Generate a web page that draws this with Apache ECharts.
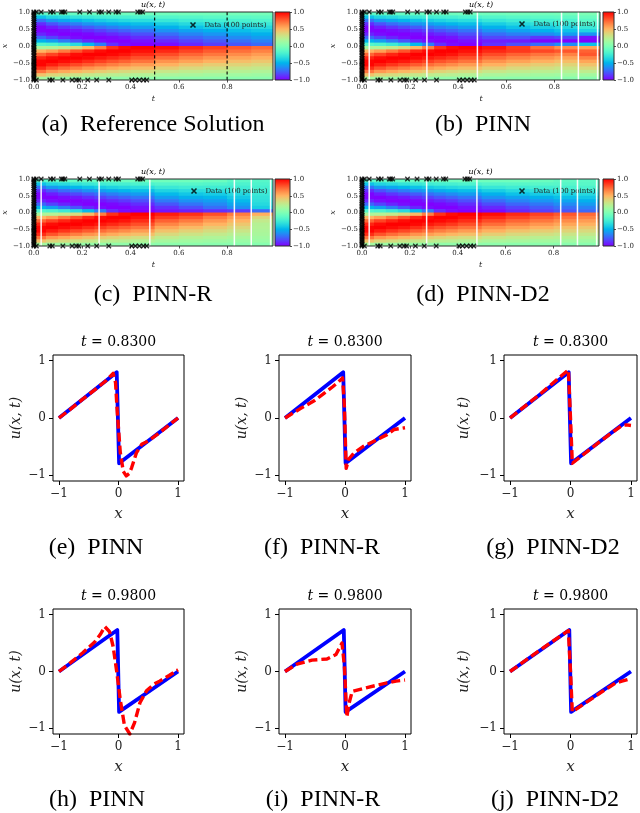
<!DOCTYPE html>
<html><head><meta charset="utf-8">
<script src="https://cdn.jsdelivr.net/npm/echarts@6/dist/echarts.min.js"></script>
<style>html,body{margin:0;padding:0;background:#fff}#c{width:640px;height:813px}</style>
</head><body><div id="c"></div>
<script>
// ---------------- DATA ----------------
// heat-map cells: time column edges and x row edges (top to bottom)
const tEdges = [0,0.05,0.1,0.15,0.2,0.25,0.3,0.35,0.4,0.5,0.6,0.7,0.8,0.9,0.99];
const xEdges = [1,0.9,0.8,0.7,0.6,0.5,0.4,0.3,0.2,0.1,0,-0.1,-0.2,-0.3,-0.4,-0.5,-0.6,-0.7,-0.8,-0.9,-1];
const tTicks = [0,0.2,0.4,0.6,0.8];
const cbTicks = [-1,-0.5,0,0.5,1];

// u(x,t) per time column, rows x = 0.95 ... -0.95
const uRef = [
 [-0.15,-0.45,-0.70,-0.89,-0.99,-0.99,-0.91,-0.74,-0.50,-0.17, 0.17,0.50,0.74,0.91,0.99,0.99,0.89,0.70,0.45,0.15],
 [-0.12,-0.37,-0.59,-0.79,-0.93,-1.00,-0.97,-0.83,-0.57,-0.20, 0.20,0.57,0.83,0.97,1.00,0.93,0.79,0.59,0.37,0.12],
 [-0.11,-0.34,-0.54,-0.72,-0.87,-0.97,-1.00,-0.91,-0.68,-0.26, 0.26,0.68,0.91,1.00,0.97,0.87,0.72,0.54,0.34,0.11],
 [-0.10,-0.30,-0.49,-0.67,-0.82,-0.94,-1.00,-0.97,-0.79,-0.34, 0.34,0.79,0.97,1.00,0.94,0.82,0.67,0.49,0.30,0.10],
 [-0.09,-0.27,-0.45,-0.61,-0.77,-0.89,-0.98,-1.00,-0.90,-0.48, 0.48,0.90,1.00,0.98,0.89,0.77,0.61,0.45,0.27,0.09],
 [-0.08,-0.25,-0.41,-0.57,-0.72,-0.84,-0.94,-1.00,-0.97,-0.67, 0.67,0.97,1.00,0.94,0.84,0.72,0.57,0.41,0.25,0.08],
 [-0.07,-0.23,-0.38,-0.53,-0.67,-0.79,-0.90,-0.98,-1.00,-0.88, 0.88,1.00,0.98,0.90,0.79,0.67,0.53,0.38,0.23,0.07],
 [-0.07,-0.22,-0.35,-0.49,-0.63,-0.75,-0.86,-0.95,-1.00,-0.97, 0.97,1.00,0.95,0.86,0.75,0.63,0.49,0.35,0.22,0.07],
 [-0.06,-0.20,-0.33,-0.46,-0.58,-0.70,-0.80,-0.89,-0.96,-1.00, 1.00,0.96,0.89,0.80,0.70,0.58,0.46,0.33,0.20,0.06],
 [-0.06,-0.17,-0.28,-0.40,-0.51,-0.61,-0.72,-0.81,-0.90,-0.97, 0.97,0.90,0.81,0.72,0.61,0.51,0.40,0.28,0.17,0.06],
 [-0.05,-0.16,-0.25,-0.35,-0.45,-0.56,-0.65,-0.74,-0.83,-0.90, 0.90,0.83,0.74,0.65,0.56,0.45,0.35,0.25,0.16,0.05],
 [-0.05,-0.14,-0.23,-0.32,-0.41,-0.51,-0.60,-0.69,-0.77,-0.84, 0.84,0.77,0.69,0.60,0.51,0.41,0.32,0.23,0.14,0.05],
 [-0.04,-0.13,-0.21,-0.29,-0.38,-0.46,-0.55,-0.63,-0.71,-0.78, 0.78,0.71,0.63,0.55,0.46,0.38,0.29,0.21,0.13,0.04],
 [-0.04,-0.12,-0.19,-0.27,-0.35,-0.43,-0.51,-0.58,-0.66,-0.73, 0.73,0.66,0.58,0.51,0.43,0.35,0.27,0.19,0.12,0.04]
];
const uPinn = [
 [-0.15,-0.45,-0.70,-0.89,-0.99,-0.99,-0.91,-0.74,-0.50,-0.17, 0.17,0.50,0.74,0.91,0.99,0.99,0.89,0.70,0.45,0.15],
 [-0.12,-0.37,-0.59,-0.79,-0.93,-1.00,-0.97,-0.83,-0.57,-0.20, 0.20,0.57,0.83,0.97,1.00,0.93,0.79,0.59,0.37,0.12],
 [-0.11,-0.34,-0.54,-0.72,-0.87,-0.97,-1.00,-0.91,-0.68,-0.26, 0.26,0.68,0.91,1.00,0.97,0.87,0.72,0.54,0.34,0.11],
 [-0.10,-0.30,-0.49,-0.67,-0.82,-0.94,-1.00,-0.97,-0.79,-0.34, 0.34,0.79,0.97,1.00,0.94,0.82,0.67,0.49,0.30,0.10],
 [-0.09,-0.27,-0.45,-0.61,-0.77,-0.89,-0.98,-1.00,-0.90,-0.48, 0.48,0.90,1.00,0.98,0.89,0.77,0.61,0.45,0.27,0.09],
 [-0.08,-0.25,-0.41,-0.57,-0.72,-0.84,-0.94,-1.00,-0.97,-0.67, 0.67,0.97,1.00,0.94,0.84,0.72,0.57,0.41,0.25,0.08],
 [-0.07,-0.23,-0.38,-0.53,-0.67,-0.79,-0.90,-0.98,-1.00,-0.88, 0.88,1.00,0.98,0.90,0.79,0.67,0.53,0.38,0.23,0.07],
 [-0.07,-0.22,-0.35,-0.49,-0.63,-0.75,-0.86,-0.95,-1.00,-0.97, 0.97,1.00,0.95,0.86,0.75,0.63,0.49,0.35,0.22,0.07],
 [-0.06,-0.20,-0.33,-0.46,-0.58,-0.70,-0.80,-0.89,-0.96,-1.00, 1.00,0.96,0.89,0.80,0.70,0.58,0.46,0.33,0.20,0.06],
 [-0.06,-0.17,-0.28,-0.40,-0.51,-0.61,-0.72,-0.82,-0.92,-0.88, 0.95,0.90,0.81,0.72,0.61,0.51,0.40,0.28,0.17,0.06],
 [-0.05,-0.15,-0.25,-0.35,-0.45,-0.56,-0.67,-0.80,-0.93,-0.80, 0.85,0.86,0.75,0.66,0.56,0.45,0.35,0.25,0.15,0.05],
 [-0.05,-0.13,-0.22,-0.31,-0.40,-0.50,-0.63,-0.86,-0.99,-0.72, 0.72,0.82,0.70,0.61,0.51,0.41,0.32,0.23,0.14,0.05],
 [-0.04,-0.12,-0.20,-0.28,-0.36,-0.45,-0.57,-0.82,-1.00,-0.62, 0.62,0.78,0.66,0.56,0.47,0.38,0.29,0.21,0.13,0.04],
 [-0.01,-0.08,-0.14,-0.20,-0.27,-0.37,-0.60,-0.95,-1.00,-0.45, 0.55,0.75,0.78,0.66,0.55,0.45,0.35,0.25,0.14,0.04]
];
const uPinnR = [
 [-0.15,-0.45,-0.70,-0.89,-0.99,-0.99,-0.91,-0.74,-0.50,-0.17, 0.17,0.50,0.74,0.91,0.99,0.99,0.89,0.70,0.45,0.15],
 [-0.12,-0.37,-0.59,-0.79,-0.93,-1.00,-0.97,-0.83,-0.57,-0.20, 0.20,0.57,0.83,0.97,1.00,0.93,0.79,0.59,0.37,0.12],
 [-0.11,-0.34,-0.54,-0.72,-0.87,-0.97,-1.00,-0.91,-0.68,-0.26, 0.26,0.68,0.91,1.00,0.97,0.87,0.72,0.54,0.34,0.11],
 [-0.10,-0.30,-0.49,-0.67,-0.82,-0.94,-1.00,-0.97,-0.79,-0.34, 0.34,0.79,0.97,1.00,0.94,0.82,0.67,0.49,0.30,0.10],
 [-0.09,-0.27,-0.45,-0.61,-0.77,-0.89,-0.98,-1.00,-0.90,-0.48, 0.48,0.90,1.00,0.98,0.89,0.77,0.61,0.45,0.27,0.09],
 [-0.08,-0.25,-0.41,-0.57,-0.72,-0.84,-0.94,-1.00,-0.97,-0.67, 0.67,0.97,1.00,0.94,0.84,0.72,0.57,0.41,0.25,0.08],
 [-0.07,-0.23,-0.38,-0.53,-0.67,-0.79,-0.90,-0.98,-1.00,-0.88, 0.88,1.00,0.98,0.90,0.79,0.67,0.53,0.38,0.23,0.07],
 [-0.07,-0.22,-0.35,-0.49,-0.63,-0.75,-0.86,-0.95,-1.00,-0.97, 0.97,1.00,0.95,0.86,0.75,0.63,0.49,0.35,0.22,0.07],
 [-0.06,-0.20,-0.33,-0.46,-0.58,-0.70,-0.80,-0.89,-0.96,-1.00, 1.00,0.96,0.89,0.80,0.70,0.58,0.46,0.33,0.20,0.06],
 [-0.06,-0.17,-0.27,-0.38,-0.48,-0.58,-0.68,-0.78,-0.88,-0.95, 0.93,0.85,0.75,0.65,0.55,0.45,0.35,0.25,0.15,0.05],
 [-0.06,-0.16,-0.25,-0.34,-0.43,-0.52,-0.61,-0.70,-0.80,-0.92, 0.88,0.78,0.68,0.58,0.48,0.39,0.30,0.21,0.13,0.05],
 [-0.08,-0.17,-0.25,-0.33,-0.41,-0.49,-0.57,-0.64,-0.72,-0.88, 0.80,0.68,0.59,0.50,0.42,0.34,0.26,0.19,0.12,0.04],
 [-0.14,-0.20,-0.25,-0.30,-0.36,-0.42,-0.48,-0.55,-0.62,-0.85, 0.68,0.58,0.50,0.43,0.36,0.29,0.22,0.16,0.10,0.04],
 [-0.16,-0.19,-0.22,-0.25,-0.27,-0.30,-0.32,-0.35,-0.40,-0.72, 0.52,0.36,0.26,0.21,0.20,0.18,0.16,0.13,0.10,0.03]
];
const uPinnD2 = [
 [-0.15,-0.45,-0.70,-0.89,-0.99,-0.99,-0.91,-0.74,-0.50,-0.17, 0.17,0.50,0.74,0.91,0.99,0.99,0.89,0.70,0.45,0.15],
 [-0.12,-0.37,-0.59,-0.79,-0.93,-1.00,-0.97,-0.83,-0.57,-0.20, 0.20,0.57,0.83,0.97,1.00,0.93,0.79,0.59,0.37,0.12],
 [-0.11,-0.34,-0.54,-0.72,-0.87,-0.97,-1.00,-0.91,-0.68,-0.26, 0.26,0.68,0.91,1.00,0.97,0.87,0.72,0.54,0.34,0.11],
 [-0.10,-0.30,-0.49,-0.67,-0.82,-0.94,-1.00,-0.97,-0.79,-0.34, 0.34,0.79,0.97,1.00,0.94,0.82,0.67,0.49,0.30,0.10],
 [-0.09,-0.27,-0.45,-0.61,-0.77,-0.89,-0.98,-1.00,-0.90,-0.48, 0.48,0.90,1.00,0.98,0.89,0.77,0.61,0.45,0.27,0.09],
 [-0.08,-0.25,-0.41,-0.57,-0.72,-0.84,-0.94,-1.00,-0.97,-0.67, 0.67,0.97,1.00,0.94,0.84,0.72,0.57,0.41,0.25,0.08],
 [-0.07,-0.23,-0.38,-0.53,-0.67,-0.79,-0.90,-0.98,-1.00,-0.88, 0.88,1.00,0.98,0.90,0.79,0.67,0.53,0.38,0.23,0.07],
 [-0.07,-0.22,-0.35,-0.49,-0.63,-0.75,-0.86,-0.95,-1.00,-0.97, 0.97,1.00,0.95,0.86,0.75,0.63,0.49,0.35,0.22,0.07],
 [-0.06,-0.20,-0.33,-0.46,-0.58,-0.70,-0.80,-0.89,-0.96,-1.00, 1.00,0.96,0.89,0.80,0.70,0.58,0.46,0.33,0.20,0.06],
 [-0.06,-0.17,-0.28,-0.40,-0.51,-0.61,-0.72,-0.81,-0.90,-0.97, 0.97,0.90,0.81,0.72,0.61,0.51,0.40,0.28,0.17,0.06],
 [-0.06,-0.16,-0.25,-0.35,-0.45,-0.56,-0.65,-0.74,-0.83,-0.90, 0.90,0.83,0.74,0.65,0.56,0.45,0.35,0.25,0.16,0.05],
 [-0.08,-0.15,-0.23,-0.32,-0.41,-0.51,-0.60,-0.69,-0.77,-0.84, 0.84,0.77,0.69,0.60,0.51,0.41,0.32,0.23,0.14,0.05],
 [-0.12,-0.16,-0.21,-0.29,-0.38,-0.46,-0.55,-0.63,-0.71,-0.78, 0.78,0.71,0.63,0.55,0.46,0.38,0.29,0.21,0.13,0.04],
 [-0.13,-0.15,-0.20,-0.27,-0.35,-0.43,-0.51,-0.58,-0.66,-0.73, 0.73,0.66,0.58,0.51,0.43,0.35,0.27,0.19,0.12,0.04]
];

// training data points (t, x)
const dataT0X = [-1,-0.96,-0.93,-0.88,-0.84,-0.8,-0.75,-0.71,-0.66,-0.62,-0.58,-0.53,-0.49,-0.45,-0.41,-0.36,-0.3,-0.26,-0.21,-0.16,-0.12,-0.08,-0.03,0.02,0.07,0.11,0.16,0.2,0.25,0.3,0.35,0.4,0.46,0.52,0.57,0.63,0.69,0.74,0.8,0.86,0.91,0.97,1];
const dataTopT = [0.01,0.03,0.069,0.08,0.114,0.12,0.128,0.19,0.23,0.27,0.28,0.31,0.34,0.35,0.43,0.44,0.45];
const dataBotT = [0.01,0.066,0.076,0.12,0.158,0.176,0.186,0.223,0.26,0.31,0.405,0.42,0.437,0.454,0.467];
const refCutT = [0.5, 0.8];
const snapshotT = [0.03, 0.27, 0.48, 0.83, 0.90, 0.98];

// slices: exact solution and predictions
const exact083X = [-1,-0.03,0.01,1];
const exact083U = [0,0.80,-0.79,0];
const exact098X = [-1,-0.02,0.01,1];
const exact098U = [0,0.73,-0.71,0];
const pinn083X = [-1,-0.8,-0.6,-0.4,-0.2,-0.09,-0.05,-0.02,0.03,0.08,0.13,0.18,0.22,0.30,0.39,0.5,0.7,0.9,1];
const pinn083U = [0,0.16,0.33,0.49,0.66,0.78,0.62,0.09,-0.6,-0.93,-1.01,-0.97,-0.87,-0.61,-0.46,-0.40,-0.25,-0.08,0];
const pinnR083X = [-1,-0.75,-0.5,-0.35,-0.2,-0.13,-0.04,-0.01,0.02,0.06,0.15,0.3,0.49,0.7,0.82,1];
const pinnR083U = [0,0.16,0.31,0.43,0.55,0.61,0.70,0.2,-0.88,-0.72,-0.61,-0.5,-0.4,-0.29,-0.2,-0.17];
const pinnD2083X = [-1,-0.5,-0.035,0.0,0.03,0.5,0.85,0.93,1];
const pinnD2083U = [0,0.42,0.84,0.0,-0.79,-0.4,-0.13,-0.12,-0.13];
const pinn098X = [-1,-0.8,-0.6,-0.4,-0.3,-0.23,-0.15,-0.09,-0.03,0.03,0.1,0.19,0.27,0.36,0.47,0.6,0.69,0.85,1];
const pinn098U = [0,0.16,0.33,0.52,0.66,0.79,0.70,0.44,0.0,-0.5,-0.95,-1.1,-0.9,-0.55,-0.34,-0.22,-0.17,-0.07,0.03];
const pinnR098X = [-1,-0.8,-0.55,-0.3,-0.15,-0.05,-0.01,0.03,0.07,0.12,0.3,0.5,0.7,0.85,1];
const pinnR098U = [0,0.13,0.20,0.22,0.30,0.50,0.1,-0.80,-0.55,-0.35,-0.30,-0.25,-0.20,-0.17,-0.15];
const pinnD2098X = [-1,-0.5,-0.035,0.0,0.03,0.5,0.75,0.85,0.95,1];
const pinnD2098U = [0,0.38,0.72,0.0,-0.71,-0.37,-0.2,-0.17,-0.14,-0.13];
const lineTicks = [-1,0,1];

// ---------------- RENDER ----------------
const SERIF = "'DejaVu Serif', serif";
const CAP = "'Liberation Serif', 'Times New Roman', serif";
const MINUS = '\u2212';
const fmt1 = v => (v < 0 ? MINUS : '') + Math.abs(v).toFixed(1);
const fmt0 = v => (v < 0 ? MINUS : '') + Math.abs(Math.round(v));
function rainbow(u){
  let s = Math.max(0, Math.min(1, (u + 1) / 2));
  const r = Math.min(1, Math.abs(2*s - 0.5)), g = Math.sin(Math.PI*s), b = Math.cos(Math.PI*s/2);
  return 'rgb(' + Math.round(r*255) + ',' + Math.round(g*255) + ',' + Math.round(Math.max(0,b)*255) + ')';
}
const grids = [], xAxes = [], yAxes = [], series = [], legends = [], graphics = [];
const XMARK = 'path://M0,0L10,10M10,0L0,10';
const NOLINE = {show:false, onZero:false};

function text(x, y, str, font, extra){
  graphics.push({type:'text', x:x, y:y, z:100, silent:true,
    style:Object.assign({text:str, font:font, fill:'#000', align:'center', verticalAlign:'middle', textAlign:'center', textVerticalAlign:'middle'}, extra||{})});
}

function heatPanel(p){
  const gi = grids.length;
  grids.push({left:p.left, top:p.top, width:p.width, height:p.height, show:true, borderColor:'#2a2a2a', borderWidth:1, backgroundColor:'transparent', z:5});
  xAxes.push({gridIndex:gi, type:'value', min:0, max:0.99, name:'t', nameLocation:'middle', nameGap:15,
    nameTextStyle:{fontFamily:SERIF, fontStyle:'italic', fontSize:8, color:'#222'},
    axisLine:NOLINE, splitLine:{show:false},
    axisTick:{customValues:tTicks, length:2.5, lineStyle:{color:'#222', width:0.8}},
    axisLabel:{customValues:tTicks, formatter:fmt1, fontSize:7, fontFamily:SERIF, color:'#222', margin:4}});
  yAxes.push({gridIndex:gi, type:'value', min:-1, max:1, interval:0.5, name:'x', nameLocation:'middle', nameGap:22, nameRotate:90,
    nameTextStyle:{fontFamily:SERIF, fontStyle:'italic', fontSize:8, color:'#222'},
    axisLine:NOLINE, splitLine:{show:false},
    axisTick:{length:2.5, lineStyle:{color:'#222', width:0.8}},
    axisLabel:{formatter:fmt1, fontSize:7, fontFamily:SERIF, color:'#222', margin:4}});
  const cells = [];
  p.U.forEach((col, j) => col.forEach((u, i) => cells.push([tEdges[j], tEdges[j+1], xEdges[i+1], xEdges[i], u])));
  series.push({type:'custom', xAxisIndex:gi, yAxisIndex:gi, data:cells, encode:{x:[0,1], y:[2,3]}, silent:true, z:2,
    renderItem:(params, api) => {
      const cs = params.coordSys;
      const a = api.coord([api.value(0), api.value(3)]);
      const b = api.coord([api.value(1), api.value(2)]);
      const right = Math.min(b[0] + 0.7, cs.x + cs.width);
      const bottom = Math.min(b[1] + 0.7, cs.y + cs.height);
      return {type:'rect', shape:{x:a[0], y:a[1], width:right - a[0], height:bottom - a[1]}, style:{fill:rainbow(api.value(4))}};
    }});
  // vertical lines
  const vt = p.dashed ? refCutT : snapshotT;
  series.push({type:'custom', xAxisIndex:gi, yAxisIndex:gi, data:vt.map(t => [t, 0]), encode:{x:0, y:1}, silent:true, z:4,
    renderItem:(params, api) => {
      const a = api.coord([api.value(0), 1]), b = api.coord([api.value(0), -1]);
      return {type:'line', shape:{x1:a[0], y1:a[1], x2:b[0], y2:b[1]},
        style: p.dashed ? {stroke:'#000', lineWidth:1.1, lineDash:[3.2,2.2]} : {stroke:'rgba(255,255,255,0.92)', lineWidth:1.5}};
    }});
  // data markers
  const pts = dataT0X.map(x => [0, x]).concat(dataTopT.map(t => [t, 1]), dataBotT.map(t => [t, -1]));
  series.push({type:'scatter', name:'Data (100 points)', xAxisIndex:gi, yAxisIndex:gi, data:pts, symbol:XMARK, symbolSize:4.5,
    clip:false, silent:true, z:10, itemStyle:{color:'none', borderColor:'#000', borderWidth:1.3}});
  legends.push({left:p.legLeft, top:p.legTop, padding:0, itemWidth:5, itemHeight:5, selectedMode:false,
    data:[{name:'Data (100 points)', icon:XMARK}],
    itemStyle:{color:'none', borderColor:'#000', borderWidth:1.6},
    textStyle:{fontSize:7, fontFamily:SERIF, color:'#222', padding:[0,0,0,4]}});
  // colorbar
  const ci = grids.length;
  grids.push({left:p.cbLeft, top:p.top, width:p.cbWidth, height:p.height, show:true, borderColor:'#2a2a2a', borderWidth:1, backgroundColor:'transparent', z:5});
  xAxes.push({gridIndex:ci, type:'value', min:0, max:1, show:false});
  yAxes.push({gridIndex:ci, type:'value', min:-1, max:1, position:'right',
    axisLine:NOLINE, splitLine:{show:false},
    axisTick:{customValues:cbTicks, length:2, lineStyle:{color:'#222', width:0.8}},
    axisLabel:{customValues:cbTicks, formatter:fmt1, fontSize:7, fontFamily:SERIF, color:'#222', margin:3}});
  const stops = [];
  for (let k = 0; k <= 20; k++) stops.push({offset:k/20, color:rainbow(1 - 2*k/20)});
  series.push({type:'custom', xAxisIndex:ci, yAxisIndex:ci, data:[[0.5, 0]], encode:{x:0, y:1}, silent:true, z:2,
    renderItem:(params) => {
      const cs = params.coordSys;
      return {type:'rect', shape:{x:cs.x, y:cs.y, width:cs.width, height:cs.height},
        style:{fill:new echarts.graphic.LinearGradient(0, 0, 0, 1, stops)}};
    }});
  text(p.left + p.width/2, p.top - 7, 'u(x, t)', 'italic 8px ' + SERIF);
  text(p.capX, p.capY, p.cap, '24px ' + CAP);
}

function linePanel(p){
  const gi = grids.length;
  grids.push({left:p.left, top:p.top, width:p.width, height:p.height, show:true, borderColor:'#000', borderWidth:1, backgroundColor:'transparent', z:5});
  xAxes.push({gridIndex:gi, type:'value', min:-1.1, max:1.1, name:'x', nameLocation:'middle', nameGap:26,
    nameTextStyle:{fontFamily:SERIF, fontStyle:'italic', fontSize:15, color:'#222'},
    axisLine:NOLINE, splitLine:{show:false},
    axisTick:{customValues:lineTicks, length:4, lineStyle:{color:'#000', width:1}},
    axisLabel:{customValues:lineTicks, formatter:fmt0, fontSize:12, fontFamily:SERIF, color:'#222', margin:7}});
  yAxes.push({gridIndex:gi, type:'value', min:-1.1, max:1.1, name:'u(x, t)', nameLocation:'middle', nameGap:p.yGap, nameRotate:90,
    nameTextStyle:{fontFamily:SERIF, fontStyle:'italic', fontSize:14, color:'#222'},
    axisLine:NOLINE, splitLine:{show:false},
    axisTick:{customValues:lineTicks, length:4, lineStyle:{color:'#000', width:1}},
    axisLabel:{customValues:lineTicks, formatter:fmt0, fontSize:12, fontFamily:SERIF, color:'#222', margin:7}});
  series.push({type:'line', xAxisIndex:gi, yAxisIndex:gi, data:p.ex.map((x, i) => [x, p.eu[i]]), symbol:'none', silent:true, z:3,
    lineStyle:{color:'#0000ff', width:3.8, cap:'butt', join:'round'}});
  series.push({type:'line', xAxisIndex:gi, yAxisIndex:gi, data:p.px.map((x, i) => [x, p.pu[i]]), symbol:'none', silent:true, z:4,
    lineStyle:{color:'#ff0000', width:3.4, type:[9,4], cap:'butt', join:'round'}});
  text(p.left + p.width/2, p.top - 13, '{i|t} = ' + p.tLabel, '14px ' + SERIF,
    {rich:{i:{font:'italic 14px ' + SERIF, fill:'#000'}}});
  text(p.capX, p.capY, p.cap, '24px ' + CAP);
}

heatPanel({left:33, top:12, width:240, height:68, cbLeft:275, cbWidth:15, U:uRef, dashed:true, legLeft:188, legTop:20, cap:'(a)  Reference Solution', capX:153, capY:125});
heatPanel({left:362, top:12, width:238, height:68, cbLeft:603, cbWidth:11, U:uPinn, dashed:false, legLeft:517, legTop:19, cap:'(b)  PINN', capX:483, capY:125});
heatPanel({left:33, top:179, width:240, height:67, cbLeft:275, cbWidth:15, U:uPinnR, dashed:false, legLeft:189, legTop:186, cap:'(c)  PINN-R', capX:153, capY:295});
heatPanel({left:362, top:179, width:237, height:67, cbLeft:603, cbWidth:11, U:uPinnD2, dashed:false, legLeft:517, legTop:186, cap:'(d)  PINN-D2', capX:483, capY:295});

linePanel({left:53, top:355, width:131, height:126, yGap:30, ex:exact083X, eu:exact083U, px:pinn083X, pu:pinn083U, tLabel:'0.8300', cap:'(e)  PINN', capX:96, capY:548});
linePanel({left:279, top:355, width:132, height:126, yGap:30, ex:exact083X, eu:exact083U, px:pinnR083X, pu:pinnR083U, tLabel:'0.8300', cap:'(f)  PINN-R', capX:322, capY:548});
linePanel({left:504, top:355, width:133, height:126, yGap:33, ex:exact083X, eu:exact083U, px:pinnD2083X, pu:pinnD2083U, tLabel:'0.8300', cap:'(g)  PINN-D2', capX:553, capY:548});
linePanel({left:53, top:609, width:131, height:125, yGap:30, ex:exact098X, eu:exact098U, px:pinn098X, pu:pinn098U, tLabel:'0.9800', cap:'(h)  PINN', capX:97, capY:800});
linePanel({left:279, top:609, width:132, height:125, yGap:30, ex:exact098X, eu:exact098U, px:pinnR098X, pu:pinnR098U, tLabel:'0.9800', cap:'(i)  PINN-R', capX:323, capY:800});
linePanel({left:504, top:609, width:133, height:125, yGap:33, ex:exact098X, eu:exact098U, px:pinnD2098X, pu:pinnD2098U, tLabel:'0.9800', cap:'(j)  PINN-D2', capX:555, capY:800});

const chart = echarts.init(document.getElementById('c'), null, {renderer:'canvas'});
chart.setOption({animation:false, backgroundColor:'#fff', grid:grids, xAxis:xAxes, yAxis:yAxes, series:series, legend:legends, graphic:graphics});
</script>
</body></html>
